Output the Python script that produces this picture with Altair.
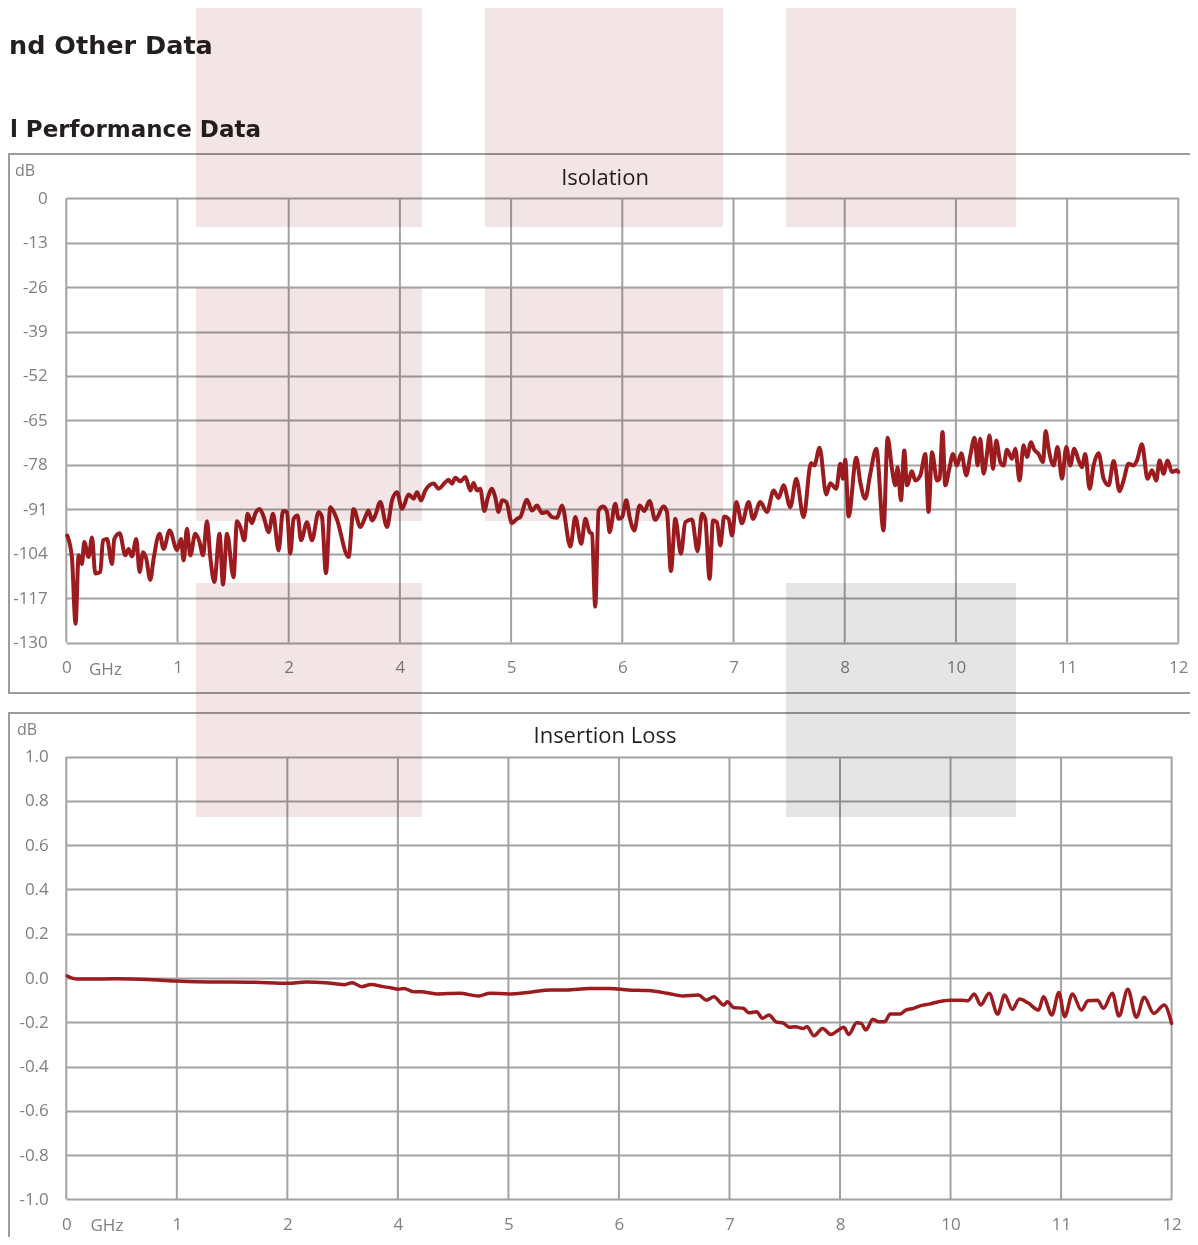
import altair as alt
import pandas as pd

# ---------------- data ----------------
iso_ghz = [
    0.01, 0.06, 0.10, 0.133, 0.169, 0.194, 0.241, 0.277, 0.313, 0.367,
    0.396, 0.439, 0.493, 0.518, 0.575, 0.637, 0.672, 0.709, 0.755, 0.791,
    0.828, 0.863, 0.906, 0.942, 1.007, 1.050, 1.115, 1.195, 1.238, 1.266,
    1.302, 1.338, 1.392, 1.438, 1.475, 1.518, 1.554, 1.597, 1.654, 1.691,
    1.734, 1.805, 1.842, 1.878, 1.921, 1.956, 2.004, 2.039, 2.086, 2.129,
    2.183, 2.231, 2.291, 2.338, 2.382, 2.417, 2.453, 2.496, 2.533, 2.597,
    2.651, 2.723, 2.759, 2.802, 2.849, 2.914, 3.046, 3.100, 3.173, 3.226,
    3.262, 3.299, 3.334, 3.388, 3.461, 3.515, 3.569, 3.623, 3.694, 3.748,
    3.784, 3.828, 3.874, 3.964, 4.017, 4.090, 4.125, 4.162, 4.198, 4.252,
    4.306, 4.360, 4.395, 4.432, 4.467, 4.511, 4.546, 4.594, 4.629, 4.665,
    4.702, 4.748, 4.810, 4.863, 4.899, 4.971, 5.025, 5.079, 5.133, 5.187,
    5.241, 5.295, 5.349, 5.439, 5.493, 5.557, 5.601, 5.647, 5.673, 5.708,
    5.744, 5.791, 5.835, 5.863, 5.924, 5.960, 5.997, 6.043, 6.079, 6.129,
    6.187, 6.237, 6.294, 6.356, 6.445, 6.482, 6.525, 6.572, 6.633, 6.680,
    6.752, 6.812, 6.860, 6.895, 6.942, 6.979, 7.022, 7.057, 7.100, 7.147,
    7.184, 7.230, 7.291, 7.363, 7.410, 7.489, 7.561, 7.633, 7.686, 7.740,
    7.813, 7.877, 7.956, 8.036, 8.072, 8.129, 8.201, 8.244, 8.309, 8.352,
    8.381, 8.406, 8.442, 8.525, 8.568, 8.622, 8.676, 8.741, 8.819, 8.863,
    8.910, 8.946, 8.971, 9.007, 9.043, 9.072, 9.126, 9.162, 9.216, 9.270,
    9.305, 9.342, 9.396, 9.424, 9.456, 9.485, 9.532, 9.568, 9.611, 9.658,
    9.712, 9.755, 9.802, 9.834, 9.863, 9.899, 9.935, 9.963, 10.000, 10.036,
    10.079, 10.115, 10.151, 10.205, 10.241, 10.287, 10.330, 10.367, 10.410, 10.446,
    10.492, 10.540, 10.568, 10.600, 10.654, 10.697, 10.745, 10.791, 10.834, 10.877,
    10.924, 10.960, 10.996, 11.043, 11.086, 11.140, 11.194, 11.248, 11.302, 11.366,
    11.409, 11.463, 11.517, 11.554, 11.608, 11.668, 11.716, 11.762, 11.798, 11.841,
    11.884, 11.931, 11.985, 12.0,
]
iso_db = [
    -98.7, -105, -124.5, -104.5, -107, -100.6, -105, -99.3, -109.8, -109.4,
    -100.1, -99.7, -107, -99.7, -98, -104.5, -102.6, -104.8, -99.7, -109.4,
    -103.6, -105.5, -111.7, -105.5, -98.2, -102.6, -97.2, -102.9, -99.7, -106,
    -96.7, -104.5, -98.2, -100.6, -104.5, -94.5, -105, -112.3, -98.2, -113,
    -98.2, -110.9, -94.5, -96.2, -100.1, -92.3, -95.1, -92.3, -90.9, -93.1,
    -97.7, -92.3, -103.1, -91.5, -91.8, -104, -93.8, -92.8, -100.1, -94.8,
    -100.1, -91.8, -93.3, -109.7, -90.4, -93.5, -105, -90.9, -96.2, -93.3,
    -91.4, -94.3, -92.8, -88.9, -96.2, -88.4, -86, -90.9, -86.7, -87.9,
    -86, -88.4, -85.5, -83.5, -85, -83.1, -82.4, -83.5, -81.8, -82.8,
    -81.6, -85.5, -83.3, -85.5, -85, -91.5, -87.9, -85, -87.5, -91.8,
    -88.4, -88.9, -95.1, -93.8, -93.3, -88.2, -91.4, -89.9, -92.1, -91.8,
    -93.3, -93.5, -89.9, -101.9, -93.3, -101.1, -93.8, -97.7, -98.2, -119.5,
    -91.4, -90.2, -91.8, -97.7, -89.4, -93.8, -93.3, -88.4, -93.3, -97.2,
    -89.9, -91.5, -88.6, -94.1, -90.2, -91.8, -109.1, -93.8, -104, -94.8,
    -94, -103.3, -92.3, -93.8, -111.4, -94.3, -94.8, -101.6, -93.1, -93.8,
    -98.7, -88.9, -95.1, -88.9, -93.8, -88.9, -91.8, -85.5, -87.7, -84,
    -90.4, -82.1, -93.3, -77.5, -78.2, -73, -86.7, -83.4, -85, -77.7,
    -82.1, -76.5, -93.1, -75.9, -83.1, -87.9, -80.6, -73.3, -97.2, -70.1,
    -79.2, -84, -78.7, -88.4, -73.8, -84, -79.9, -82.6, -81.1, -74.8,
    -91.8, -74.3, -82.6, -82.1, -68.4, -84, -78.7, -74.8, -78.2, -74.6,
    -81.1, -75.3, -70.1, -78.2, -70.4, -80.6, -74.8, -69.4, -79.2, -70.9,
    -77.2, -78.2, -73.6, -76.2, -73.3, -82.6, -72.3, -75.7, -71.4, -73.6,
    -74.8, -77.2, -68.1, -73.3, -78.2, -72.8, -82.1, -72.8, -78.2, -73.3,
    -76.7, -78.7, -74.8, -85, -78.2, -74.6, -82.1, -84, -76.9, -85.7,
    -82.6, -77.7, -78.2, -76.7, -72, -82.1, -79.6, -82.6, -76.7, -80.6,
    -76.7, -80.1, -79.6, -80.1,
]

il_ghz = [
    0.01, 0.114, 0.529, 0.944, 1.204, 1.568, 1.775, 2.192, 2.398, 2.604,
    2.810, 3.021, 3.103, 3.207, 3.309, 3.436, 3.520, 3.602, 3.664, 3.768,
    3.852, 4.018, 4.266, 4.475, 4.600, 4.807, 5.013, 5.262, 5.429, 5.679,
    5.896, 6.106, 6.317, 6.526, 6.694, 6.864, 6.947, 7.031, 7.137, 7.178,
    7.242, 7.348, 7.411, 7.494, 7.557, 7.629, 7.705, 7.789, 7.852, 7.915,
    8.000, 8.041, 8.117, 8.210, 8.302, 8.357, 8.441, 8.496, 8.580, 8.630,
    8.681, 8.756, 8.820, 8.883, 8.946, 9.051, 9.114, 9.199, 9.262, 9.367,
    9.472, 9.598, 9.724, 9.787, 9.858, 9.927, 10.019, 10.111, 10.187, 10.271,
    10.347, 10.440, 10.557, 10.608, 10.700, 10.776, 10.839, 10.923, 11.020, 11.092,
    11.196, 11.260, 11.357, 11.428, 11.525, 11.617, 11.702, 11.807, 11.920, 12.0,
]
il_db = [
    0.009, -0.005, -0.003, -0.008, -0.014, -0.018, -0.018, -0.021, -0.024, -0.018,
    -0.021, -0.030, -0.021, -0.039, -0.029, -0.039, -0.044, -0.051, -0.047, -0.062,
    -0.062, -0.072, -0.069, -0.081, -0.069, -0.072, -0.065, -0.054, -0.054, -0.048,
    -0.048, -0.054, -0.057, -0.069, -0.081, -0.077, -0.100, -0.085, -0.122, -0.107,
    -0.133, -0.137, -0.157, -0.152, -0.182, -0.167, -0.198, -0.205, -0.223, -0.220,
    -0.228, -0.220, -0.261, -0.228, -0.255, -0.243, -0.223, -0.255, -0.202, -0.205,
    -0.235, -0.186, -0.198, -0.198, -0.163, -0.163, -0.145, -0.137, -0.127, -0.118,
    -0.107, -0.100, -0.100, -0.103, -0.072, -0.122, -0.069, -0.163, -0.077, -0.142,
    -0.095, -0.112, -0.145, -0.085, -0.167, -0.066, -0.175, -0.072, -0.145, -0.103,
    -0.100, -0.137, -0.069, -0.172, -0.051, -0.178, -0.087, -0.160, -0.122, -0.205,
]

x_ticks = [0, 1.2, 2.4, 3.6, 4.8, 6, 7.2, 8.4, 9.6, 10.8, 12]
iso_ticks = [0, -13, -26, -39, -52, -65, -78, -91, -104, -117, -130]
il_ticks = [1.0, 0.8, 0.6, 0.4, 0.2, 0.0, -0.2, -0.4, -0.6, -0.8, -1.0]

header_1 = "nd Other Data"
header_2 = "l Performance Data"
title_iso = "Isolation"
title_il = "Insertion Loss"
unit_y = "dB"
unit_x = "GHz"

# ---------------- styling / layout ----------------
W, H = 1182, 1229
RED = "#9b1b1f"
GRID = "#a2a2a2"
LABEL = "#7f7f7f"
DARK = "#231f20"
PINK = "#f3e5e5"
GREY = "#e5e5e5"

iso_df = pd.DataFrame({"GHz": iso_ghz, "dB": iso_db})
il_df = pd.DataFrame({"GHz": il_ghz, "dB": il_db})
tick_df = pd.DataFrame({"GHz": x_ticks})
one = pd.DataFrame({"k": [0]})

MINUS_FIX = "replace(datum.label, '\u2212', '-')"

axis_common = dict(
    domain=False, ticks=False, labelFont="Open Sans", labelFontSize=17,
    labelColor=LABEL, labelFlush=False, labelOverlap=False, title=None,
)

# plot area boxes in pixel coordinates of the chart
ISO_L, ISO_R, ISO_T, ISO_B = 58.3, 1170.3, 190.3, 634.5
IL_L, IL_R, IL_T, IL_B = 58.3, 1163.6, 748.7, 1191.3


def panel(df, L, R, T, B, ydom, yticks, yfmt, lw, ylabpad):
    xs = alt.Scale(domain=[0, 12], range=[L, R], nice=False, zero=False)
    ys = alt.Scale(domain=ydom, range=[B, T], nice=False, zero=False)
    xaxis = alt.Axis(values=x_ticks, format=".0f", orient="bottom",
                     offset=-(H - B), labelPadding=17, grid=False,
                     **axis_common)
    vgrid = alt.Chart(tick_df).mark_rule(color=GRID, strokeWidth=2).encode(
        x=alt.X("GHz:Q", scale=xs, axis=xaxis),
        y=alt.value(T), y2=alt.value(B),
    )
    line = alt.Chart(df).mark_line(
        color=RED, strokeWidth=lw, interpolate="monotone",
        strokeJoin="round", strokeCap="round",
    ).encode(
        x=alt.X("GHz:Q", scale=xs, axis=xaxis),
        y=alt.Y("dB:Q", scale=ys,
                axis=alt.Axis(values=yticks, format=yfmt, orient="left",
                              offset=-L, labelPadding=ylabpad, grid=True,
                              gridColor=GRID, gridWidth=2, gridOpacity=1,
                              labelExpr=MINUS_FIX, **axis_common)),
    )
    return alt.layer(vgrid, line)


iso_panel = panel(iso_df, ISO_L, ISO_R, ISO_T, ISO_B, [-130, 0], iso_ticks, ".0f", 4, 19)
il_panel = panel(il_df, IL_L, IL_R, IL_T, IL_B, [-1, 1], il_ticks, ".1f", 3.5, 18)


def txt(s, x, y, size, color, align="left", baseline="middle",
        weight="normal", font="Open Sans"):
    return alt.Chart(pd.DataFrame({"t": [s]})).mark_text(
        align=align, baseline=baseline, fontSize=size, color=color,
        font=font, fontWeight=weight,
    ).encode(x=alt.value(x), y=alt.value(y), text="t:N")


def box(x1, x2, y1, y2, color):
    return alt.Chart(one).mark_rect(color=color, blend="multiply").encode(
        x=alt.value(x1), x2=alt.value(x2), y=alt.value(y1), y2=alt.value(y2))


def frame(x1, x2, y1, y2):
    return alt.Chart(one).mark_rect(
        fillOpacity=0, stroke="#9c9c9c", strokeWidth=2,
    ).encode(x=alt.value(x1), x2=alt.value(x2), y=alt.value(y1), y2=alt.value(y2))


layers = [
    frame(1, 1200, 146, 685),
    frame(1, 1200, 705, 1260),
    iso_panel,
    il_panel,
    txt(header_1, 1, 46, 25.5, DARK, align="left", baseline="alphabetic",
        weight="bold", font="DejaVu Sans"),
    txt(header_2, 253, 129, 23, DARK, align="right", baseline="alphabetic",
        weight="bold", font="DejaVu Sans"),
    txt(title_iso, 597, 170, 22, DARK, align="center"),
    txt(title_il, 597, 728, 22, DARK, align="center"),
    txt(unit_y, 7, 163, 16, LABEL),
    txt(unit_y, 9, 722, 16, LABEL),
    txt(unit_x, 81, 662, 17, LABEL),
    txt(unit_x, 82.5, 1218, 17, LABEL),
    # translucent overlay blocks
    box(188, 414, -2, 219, PINK),
    box(477, 715, -2, 219, PINK),
    box(778, 1008, -2, 219, PINK),
    box(188, 414, 280, 513, PINK),
    box(477, 715, 280, 513, PINK),
    box(188, 414, 575, 809, PINK),
    box(778, 1008, 575, 809, GREY),
]

chart = alt.layer(*layers).resolve_scale(
    x="independent", y="independent"
).resolve_axis(
    x="independent", y="independent"
).properties(
    width=W, height=H, padding=0,
    autosize=alt.AutoSizeParams(type="none"),
    background="white",
).configure_view(stroke=None)

chart.save("out.html", embed_options={"renderer": "svg", "actions": False})
